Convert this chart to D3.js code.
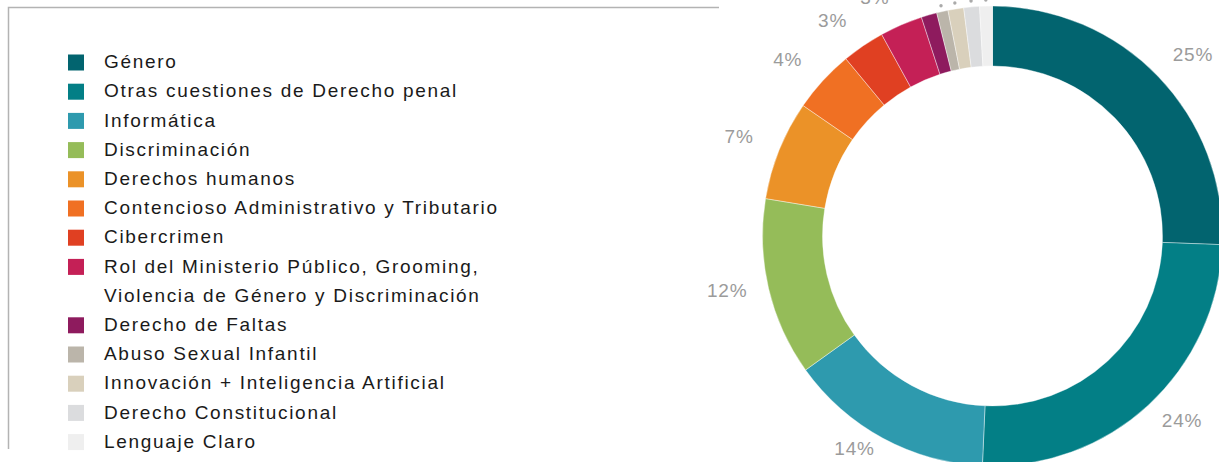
<html>
<head>
    <meta charset="UTF-8" />
    <script src="https://d3js.org/d3.v7.min.js"></script>
    <style>
        body { margin: 0; background: #fff; }
        .legend text { font-family: "Liberation Sans", Arial, sans-serif; font-size: 19px; letter-spacing: 1.7px; fill: #1a1a1a; }
        .pct { font-family: "Liberation Sans", Arial, sans-serif; font-size: 19px; letter-spacing: 0.8px; fill: #9b9b9b; }
    </style>
</head>
<body>
    <svg height="462" width="1219" id="svg1"></svg>
    <script>
        // categories, shares and printed labels
        const categories = ["Género", "Otras cuestiones de Derecho penal", "Informática", "Discriminación",
            "Derechos humanos", "Contencioso Administrativo y Tributario", "Cibercrimen",
            "Rol del Ministerio Público, Grooming,\nViolencia de Género y Discriminación",
            "Derecho de Faltas", "Abuso Sexual Infantil", "Innovación + Inteligencia Artificial",
            "Derecho Constitucional", "Lenguaje Claro"];
        const shares = [25.6, 25.1, 14.4, 12.5, 7.0, 4.4, 3.0, 3.0, 1.1, 0.8, 1.1, 1.1, 0.9];
        const pctLabels = ["25%", "24%", "14%", "12%", "7%", "4%", "3%", "3%", "", "·", "·", "·", "·"];
        const colors = ["#02646f", "#037f86", "#2e9aae", "#95bc59", "#eb9228", "#f07023", "#e04022",
            "#c42056", "#8e1b5e", "#bbb5aa", "#d9d0bc", "#dbdcde", "#efefef"];

        const svg1 = d3.select("svg#svg1");
        const height = +svg1.attr("height");

        // frame of the legend panel
        svg1.append("path")
            .attr("d", "M719,7.5 H8.5 V449")
            .style("fill", "none")
            .style("stroke", "#b3b3b3")
            .style("stroke-width", 1.5);

        // legend
        const rowH = 29.2;
        let legend = svg1.append("g").attr("class", "legend")
                         .attr("transform", "translate(68,61.5)");
        let row = 0;
        categories.forEach((c, i) => {
            const lines = c.split("\n");
            const g = legend.append("g").attr("transform", "translate(0," + (row * rowH) + ")");
            g.append("rect").attr("x", 0).attr("y", -7).attr("width", 16).attr("height", 16)
             .style("fill", colors[i]);
            lines.forEach((l, j) => {
                g.append("text").attr("x", 36).attr("y", j * rowH)
                 .attr("dy", "0.35em").text(l);
            });
            row += lines.length;
        });

        // donut
        const cx = 992.5, cy = 236, rOut = 230, rIn = 170;
        const pie = d3.pie().sort(null).value(d => d)(shares);
        const arc = d3.arc().innerRadius(rIn).outerRadius(rOut);
        const dotArc = d3.arc().innerRadius(236).outerRadius(236);

        let chart = svg1.append("g").attr("transform", "translate(" + cx + "," + cy + ")");
        chart.selectAll("path.slice").data(pie)
             .join("path")
             .attr("class", "slice")
             .attr("d", arc)
             .style("fill", (d, i) => colors[i])
             .style("stroke", "#fff")
             .style("stroke-width", 0.4);

        // percentage labels: outside the ring, pushed away sideways, kept inside the bottom edge
        const labR = 256, labDy = -4, side = 16;
        const labPos = d => {
            const a = (d.startAngle + d.endAngle) / 2;
            const s = Math.sin(a);
            const x = labR * s + Math.sign(s) * side;
            const y = Math.min(labDy - labR * Math.cos(a), height - 14 - cy);
            return [x, y];
        };
        chart.selectAll("text.pct").data(pie.filter((d, i) => pctLabels[i].endsWith("%")))
             .join("text")
             .attr("class", "pct")
             .attr("text-anchor", "middle")
             .attr("dy", "0.35em")
             .attr("transform", d => "translate(" + labPos(d) + ")")
             .text(d => pctLabels[d.index]);

        chart.selectAll("circle.dot").data(pie.filter((d, i) => pctLabels[i] === "·"))
             .join("circle")
             .attr("class", "dot")
             .attr("transform", d => "translate(" + dotArc.centroid(d) + ")")
             .attr("r", 1.7)
             .style("fill", "#aaa");
    </script>
</body>
</html>
